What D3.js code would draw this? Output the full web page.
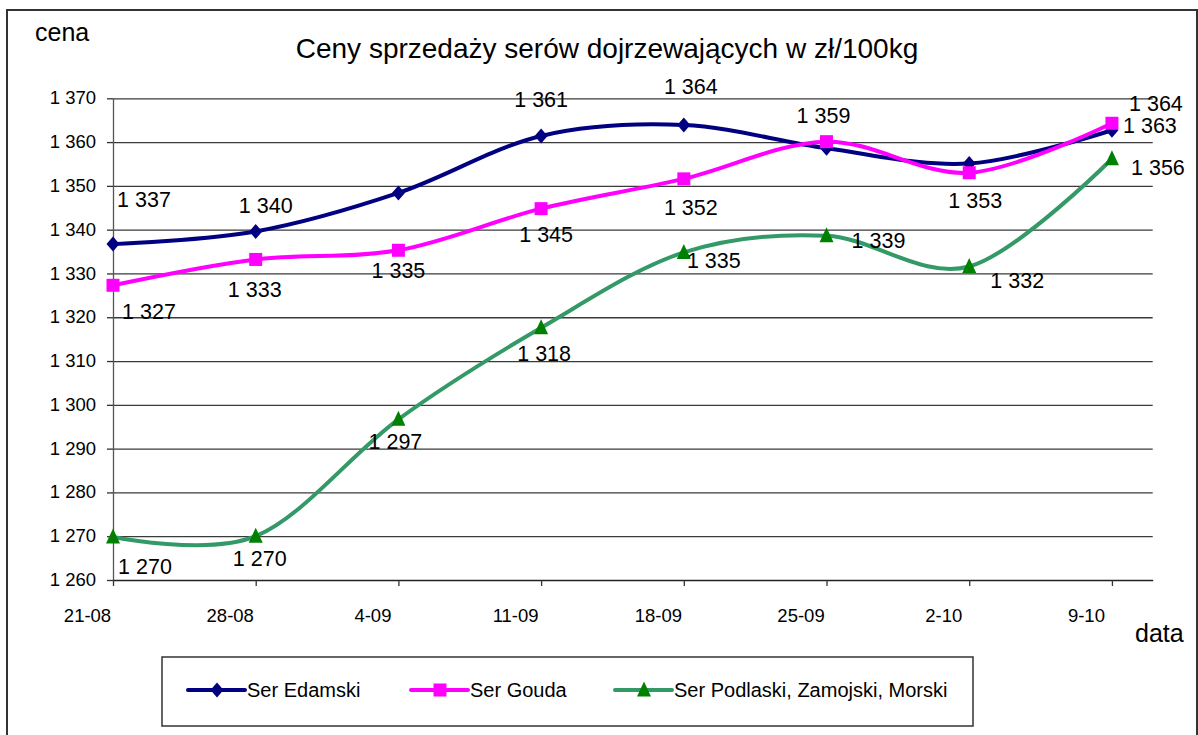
<!DOCTYPE html>
<html>
<head>
<meta charset="utf-8">
<script src="https://cdnjs.cloudflare.com/ajax/libs/d3/7.8.5/d3.min.js"></script>
<style>
  html, body { margin: 0; padding: 0; background: #fff; }
  #chart { width: 1198px; height: 735px; }
  svg text { font-family: "Liberation Sans", Arial, sans-serif; fill: #000; }
</style>
</head>
<body>
<div id="chart"><svg width="1198" height="735"></svg></div>
<script>

// weekly quotations, dates as dd-mm
const categories = ["21-08", "28-08", "4-09", "11-09", "18-09", "25-09", "2-10", "9-10"];
const axisEnd = "11-10";

const edamski  = [1336.7, 1339.6, 1348.4, 1361.4, 1363.9, 1358.6, 1355.1, 1362.7];
const gouda    = [1327.3, 1333.2, 1335.3, 1344.8, 1351.6, 1360.1, 1353.0, 1364.3];
const podlaski = [1269.8, 1270.0, 1296.7, 1317.6, 1334.8, 1338.6, 1331.6, 1356.2];

const seriesNames = ["Ser Edamski", "Ser Gouda", "Ser Podlaski, Zamojski, Morski"];
const yTickValues = [1260, 1270, 1280, 1290, 1300, 1310, 1320, 1330, 1340, 1350, 1360, 1370];

// where excel put each data label, relative to its marker (null = label hidden)
const labelOffsets = [
    [[31, -37], [10, -18], null, [0, -29], [7, -31], [-3, -25], null, [38, 3]],
    [[36, 34], [-1, 38], [0, 28], [5, 33], [7, 36], null, [6, 35], [44, -12]],
    [[32, 37], [4, 30], [-3, 30], [3, 33], [30, 16], [52, 12], [48, 22], [46, 16]]
];

function makeChart() {

    /**********************
    ***** BASIC SETUP *****
    **********************/

    const svg = d3.select("#chart").select("svg");
    const plot = {left: 113, right: 1152.7, top: 98.3, bottom: 580};

    const pl = d3.formatLocale({decimal: ",", thousands: " ", grouping: [3], currency: ["", ""]});
    const fmt = pl.format(",d");
    const parseDay = d3.utcParse("%d-%m");
    const dayLabel = d3.utcFormat("%-d-%m");

    // outer chart frame
    svg.append("rect")
        .attr("x", 7).attr("y", 10)
        .attr("width", 1190).attr("height", 760)
        .attr("fill", "#fff")
        .attr("stroke", "#333")
        .attr("stroke-width", 2);

    /***********************
    ***** X & Y SCALES *****
    ***********************/

    const dates = categories.map(parseDay);

    const xScale = d3.scaleUtc()
        .domain([dates[0], parseDay(axisEnd)])
        .range([plot.left, plot.right]);

    const yScale = d3.scaleLinear()
        .domain([1260, 1370])
        .range([plot.bottom, plot.top]);

    /*********************
    ***** X & Y AXES *****
    *********************/

    // horizontal grid
    svg.append("g")
        .attr("class", "grid")
        .attr("transform", `translate(${plot.left}, 0)`)
        .call(d3.axisLeft(yScale)
            .tickValues(yTickValues.slice(1))
            .tickSize(-(plot.right - plot.left))
            .tickSizeOuter(0)
            .tickFormat(""))
        .call(g => g.select(".domain").remove())
        .selectAll("line")
        .attr("stroke", "#3a3a3a")
        .attr("stroke-width", 1.3);

    const yAxis = svg.append("g")
        .attr("class", "yAxis")
        .attr("transform", `translate(${plot.left}, 0)`)
        .call(d3.axisLeft(yScale)
            .tickValues(yTickValues)
            .tickSize(6)
            .tickSizeOuter(0)
            .tickPadding(11)
            .tickFormat(fmt));

    yAxis.select(".domain").attr("stroke", "#555").attr("stroke-width", 1.3);
    yAxis.selectAll("line").attr("stroke", "#333").attr("stroke-width", 1.3);
    yAxis.selectAll("text")
        .attr("font-size", "18.5px")
        .attr("dy", "0.3em")
        .style("font-family", "'Liberation Sans', Arial, sans-serif");

    const xAxis = svg.append("g")
        .attr("class", "xAxis")
        .attr("transform", `translate(0, ${plot.bottom})`)
        .call(d3.axisBottom(xScale)
            .tickValues(dates)
            .tickSize(6)
            .tickSizeOuter(0)
            .tickFormat(dayLabel));

    xAxis.select(".domain").attr("stroke", "#222").attr("stroke-width", 1.5);
    xAxis.selectAll("line").attr("stroke", "#333").attr("stroke-width", 1.3);
    xAxis.selectAll("text")
        .attr("font-size", "18.5px")
        .attr("y", 42)
        .attr("dy", 0)
        .attr("dx", -26)
        .style("font-family", "'Liberation Sans', Arial, sans-serif");

    /****************
    ***** LINES *****
    *****************/

    const seriesValues = [edamski, gouda, podlaski];
    const lineColors = ["#000080", "#ff00ff", "#339966"];
    const markerColors = ["#000080", "#ff00ff", "#008000"];

    // marker paths, centred on 0,0
    const markerPaths = [
        "M0,-7.5L6.5,0L0,7.5L-6.5,0Z",
        "M-6.5,-6.5H6.5V6.5H-6.5Z",
        "M0,-8.5L7,6.5H-7Z"
    ];

    const line = d3.line()
        .x(d => xScale(d.date))
        .y(d => yScale(d.value))
        .curve(d3.curveCardinal.tension(0));

    const series = seriesValues.map((vals, i) => ({
        name: seriesNames[i],
        points: vals.map((v, j) => ({date: dates[j], value: v, offset: labelOffsets[i][j]}))
    }));

    const lines = svg.append("g").attr("id", "lines");

    series.forEach((s, i) => {
        lines.append("path")
            .datum(s.points)
            .attr("fill", "none")
            .attr("stroke", lineColors[i])
            .attr("stroke-width", 4)
            .attr("stroke-linejoin", "round")
            .attr("d", line);
    });

    series.forEach((s, i) => {
        lines.selectAll(".marker" + i)
            .data(s.points)
            .enter()
            .append("path")
            .attr("class", "marker" + i)
            .attr("d", markerPaths[i])
            .attr("fill", markerColors[i])
            .attr("transform", d => `translate(${xScale(d.date)}, ${yScale(d.value)})`);
    });

    /**********************
    ***** DATA LABELS *****
    **********************/

    series.forEach((s, i) => {
        lines.selectAll(".lineLabel" + i)
            .data(s.points.filter(d => d.offset))
            .enter()
            .append("text")
            .attr("class", "lineLabel" + i)
            .attr("x", d => xScale(d.date) + d.offset[0])
            .attr("y", d => yScale(d.value) + d.offset[1])
            .attr("text-anchor", "middle")
            .attr("font-size", "21.5px")
            .text(d => fmt(Math.round(d.value)));
    });

    /*************************
    ***** TITLE, CAPTION *****
    *************************/

    svg.append("text")
        .attr("class", "chartTitle")
        .attr("x", 607)
        .attr("y", 58)
        .attr("text-anchor", "middle")
        .attr("font-size", "28px")
        .text("Ceny sprzedaży serów dojrzewających w zł/100kg");

    svg.append("text")
        .attr("x", 35)
        .attr("y", 41)
        .attr("font-size", "25px")
        .text("cena");

    svg.append("text")
        .attr("x", 1135)
        .attr("y", 642)
        .attr("font-size", "25px")
        .text("data");

    /*****************
    ***** LEGEND *****
    *****************/

    const legend = svg.append("g").attr("id", "legend");

    legend.append("rect")
        .attr("x", 162).attr("y", 657)
        .attr("width", 811).attr("height", 69)
        .attr("fill", "#fff")
        .attr("stroke", "#333")
        .attr("stroke-width", 1.5);

    const legendStarts = [188, 411, 615];

    series.forEach((s, i) => {
        const item = legend.append("g")
            .attr("transform", `translate(${legendStarts[i]}, 690)`);
        item.append("line")
            .attr("x1", 0).attr("x2", 57)
            .attr("stroke", lineColors[i])
            .attr("stroke-width", 4)
            .attr("stroke-linecap", "round");
        item.append("path")
            .attr("d", markerPaths[i])
            .attr("fill", markerColors[i])
            .attr("transform", "translate(29, 0)");
        item.append("text")
            .attr("x", 59)
            .attr("y", 7)
            .attr("font-size", "20px")
            .text(s.name);
    });
}

makeChart();
</script>
</body>
</html>
